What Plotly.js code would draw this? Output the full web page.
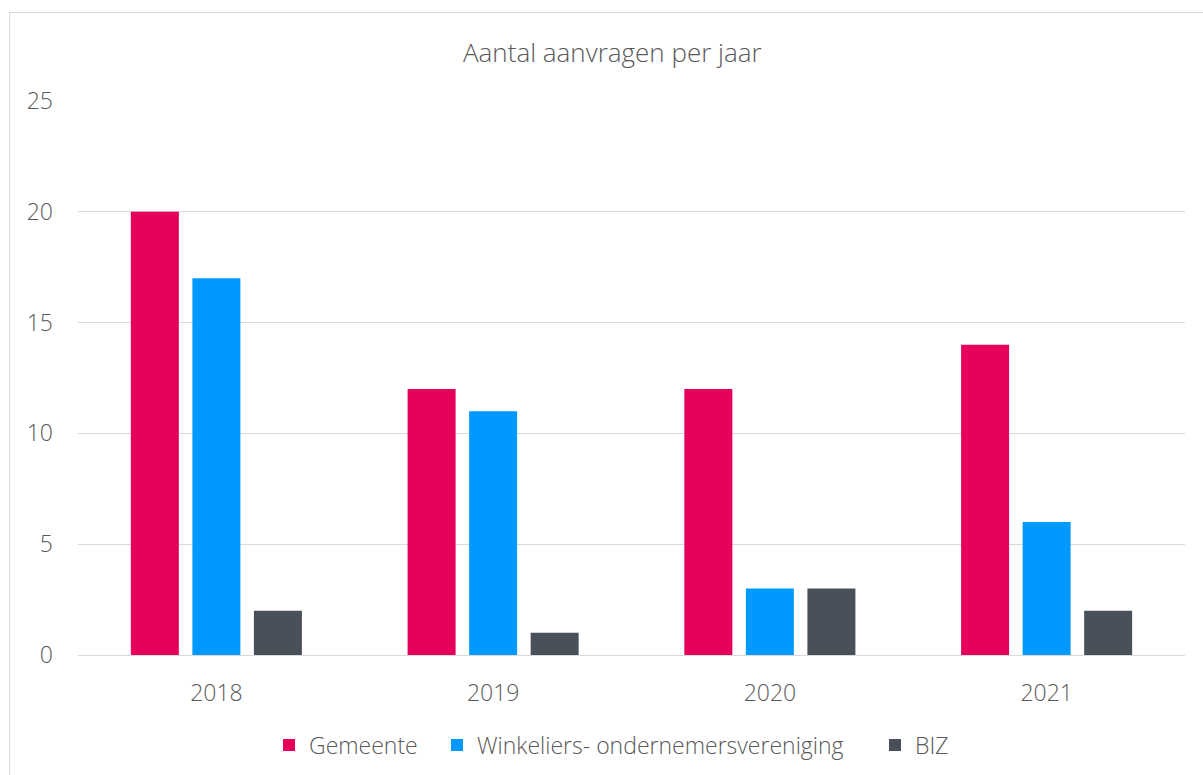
<!DOCTYPE html>
<html>
<head>
<meta charset="utf-8">
<script src="https://cdn.plot.ly/plotly-3.0.1.min.js"></script>
<style>
  html, body { margin: 0; padding: 0; background: #fff; }
  #wrap { position: relative; width: 1203px; height: 775px; overflow: hidden; }
  #chart { width: 1203px; height: 775px; }
  #frame { position: absolute; left: 9px; top: 12px; width: 1210px; height: 780px;
           border: 1px solid #d9d9d9; pointer-events: none; box-sizing: border-box; }
</style>
</head>
<body>
<div id="wrap">
  <div id="chart"></div>
  <div id="frame"></div>
</div>
<script>
const years = ["2018", "2019", "2020", "2021"];
const seriesNames = ["Gemeente", "Winkeliers- ondernemersvereniging", "BIZ"];
const gemeente = [20, 12, 12, 14];
const winkeliers = [17, 11, 3, 6];
const biz = [2, 1, 3, 2];
const colors = ["#E6005C", "#0099FF", "#4A5059"];
const yTicks = [0, 5, 10, 15, 20, 25];

const values = [gemeente, winkeliers, biz];
const fontFam = '"Open Sans", "Noto Sans", sans-serif';
const textColor = "#595959";
const legendIds = ["legend", "legend2", "legend3"];
const legendLeftPx = [269, 437, 875];

const W = 1203, H = 775;
const margin = { l: 78, r: 18, t: 101, b: 120 };

const data = values.map((v, i) => ({
  type: "bar",
  name: seriesNames[i],
  x: years,
  y: v,
  legend: legendIds[i],
  marker: { color: colors[i] },
  hoverinfo: "x+y+name"
}));

function legendCfg(px) {
  return {
    orientation: "h",
    x: px / W, xref: "container", xanchor: "left",
    y: 1 - 745 / H, yref: "container", yanchor: "middle",
    bgcolor: "rgba(0,0,0,0)",
    borderwidth: 0,
    font: { family: fontFam, size: 23, color: textColor, weight: 300 },
    itemclick: false,
    itemdoubleclick: false
  };
}

const layout = {
  width: W,
  height: H,
  margin: margin,
  paper_bgcolor: "#ffffff",
  plot_bgcolor: "#ffffff",
  font: { family: fontFam, color: textColor, size: 22, weight: 300 },
  title: {
    text: "Aantal aanvragen per jaar",
    x: 0.509, xref: "container", xanchor: "center",
    y: 1 - 53 / H, yref: "container", yanchor: "middle",
    font: { family: fontFam, size: 26, color: textColor, weight: 300 }
  },
  barmode: "group",
  bargap: 0.333,
  bargroupgap: 0.22,
  xaxis: {
    type: "category",
    automargin: false,
    showgrid: false,
    showline: false,
    zeroline: false,
    ticks: "",
    ticklabelstandoff: 22,
    tickfont: { family: fontFam, size: 23, color: textColor, weight: 300 }
  },
  yaxis: {
    range: [0, 25],
    automargin: false,
    tickvals: yTicks,
    ticktext: yTicks.map(String),
    showgrid: true,
    gridcolor: "#d9d9d9",
    gridwidth: 1,
    zeroline: true,
    zerolinecolor: "#d9d9d9",
    zerolinewidth: 1,
    showline: false,
    ticks: "",
    ticklabelstandoff: 24,
    tickfont: { family: fontFam, size: 23, color: textColor, weight: 300 },
    fixedrange: true
  },
  showlegend: true,
  legend: legendCfg(legendLeftPx[0]),
  legend2: legendCfg(legendLeftPx[1]),
  legend3: legendCfg(legendLeftPx[2])
};

Plotly.newPlot("chart", data, layout, { displayModeBar: false });
</script>
</body>
</html>
